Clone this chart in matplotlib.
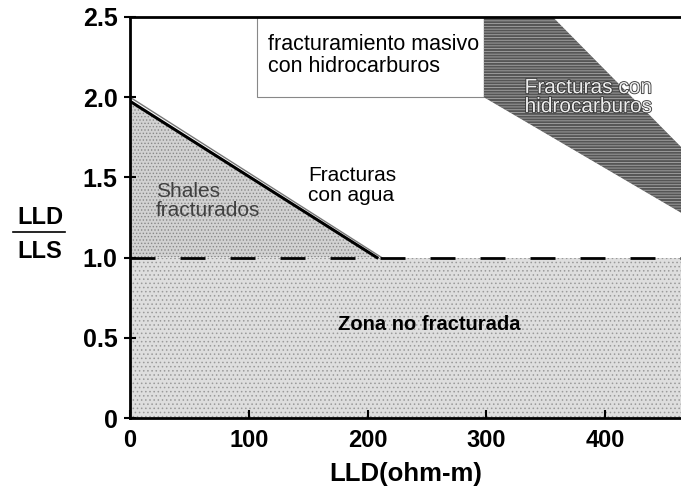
import matplotlib.pyplot as plt
import matplotlib.patheffects as pe

plt.rcParams['font.family'] = ['Liberation Sans', 'DejaVu Sans']
plt.rcParams['hatch.linewidth'] = 0.6

# zone boundaries (LLD in ohm-m, ratio LLD/LLS)
x_max = 464
cutoff = 1.0
shale_x = [0, 0, 208]
shale_y = [1.0, 1.975, 1.0]
water_x = [0, 212]
water_y = [2.0, 1.0]
box_x = [107, 298]
box_y = [2.0, 2.5]
hc_x = [298, 356, 464, 464, 298]
hc_y = [2.5, 2.5, 1.69, 1.28, 2.0]
xticks = [0, 100, 200, 300, 400]
yticks = [0, 0.5, 1.0, 1.5, 2.0, 2.5]
ytick_labels = ['0', '0.5', '1.0', '1.5', '2.0', '2.5']

fig = plt.figure(figsize=(6.81, 4.88), dpi=100)
ax = fig.add_axes([130 / 681, 70 / 488, 551 / 681, 401 / 488])
ax.set_xlim(0, x_max)
ax.set_ylim(0, 2.5)

# non-fractured zone
ax.fill_between([0, x_max], 0, cutoff, facecolor='#dedede', hatch='....',
                edgecolor='#9a9a9a', linewidth=0, zorder=1)
# shales
ax.fill(shale_x, shale_y, facecolor='#d2d2d2', hatch='.....',
        edgecolor='#888888', linewidth=0, zorder=1)
ax.plot(water_x, water_y, color='#777777', lw=1.0, zorder=3)
ax.plot(shale_x[1:], shale_y[1:], color='black', lw=2.2, zorder=3)
ax.axhline(cutoff, color='black', lw=2, dashes=(9, 9), zorder=4)

# massive fracturing box
ax.fill([box_x[0], box_x[1], box_x[1], box_x[0]],
        [box_y[0], box_y[0], box_y[1], box_y[1]],
        facecolor='white', edgecolor='#888888', lw=0.8, zorder=2)
# fractures with hydrocarbons
ax.fill(hc_x, hc_y, facecolor='#555555', hatch='------',
        edgecolor='#a8a8a8', linewidth=0, zorder=2)

ax.text(116, 2.26, 'fracturamiento masivo\ncon hidrocarburos', fontsize=15.5,
        ha='left', va='center', linespacing=1.1, zorder=5)
ax.text(386, 2.0, 'Fracturas con\nhidrocarburos', fontsize=15, color='#eeeeee',
        ha='center', va='center', linespacing=1.0, zorder=5,
        path_effects=[pe.withStroke(linewidth=1.2, foreground='#333333')])
ax.text(150, 1.45, 'Fracturas\ncon agua', fontsize=15, ha='left', va='center',
        linespacing=1.05, zorder=5)
ax.text(22, 1.35, 'Shales\nfracturados', fontsize=15, color='#404040',
        ha='left', va='center', linespacing=1.0, zorder=5)
ax.text(252, 0.58, 'Zona no fracturada', fontsize=14.5, fontweight='bold',
        ha='center', va='center', zorder=5)

ax.set_xticks(xticks)
ax.set_yticks(yticks, ytick_labels)
ax.tick_params(axis='x', direction='in', length=6, width=1.5, labelsize=17, pad=8)
ax.tick_params(axis='y', direction='inout', length=8, width=1.5, labelsize=18, pad=5)
for lab in ax.get_xticklabels() + ax.get_yticklabels():
    lab.set_fontweight('bold')
for s in ['left', 'bottom', 'top']:
    ax.spines[s].set_linewidth(2)
    ax.spines[s].set_zorder(6)
ax.spines['right'].set_visible(False)

ax.set_xlabel('LLD(ohm-m)', fontsize=18.5, fontweight='bold', labelpad=7)
fig.text(40 / 681, 1 - 218 / 488, 'LLD', fontsize=17, fontweight='bold',
         ha='center', va='center')
fig.text(40 / 681, 1 - 251 / 488, 'LLS', fontsize=17, fontweight='bold',
         ha='center', va='center')
fig.add_artist(plt.Line2D([13 / 681, 65 / 681], [1 - 232 / 488, 1 - 232 / 488],
                          color='black', lw=1.2))

fig.savefig('out.png', dpi=100)
